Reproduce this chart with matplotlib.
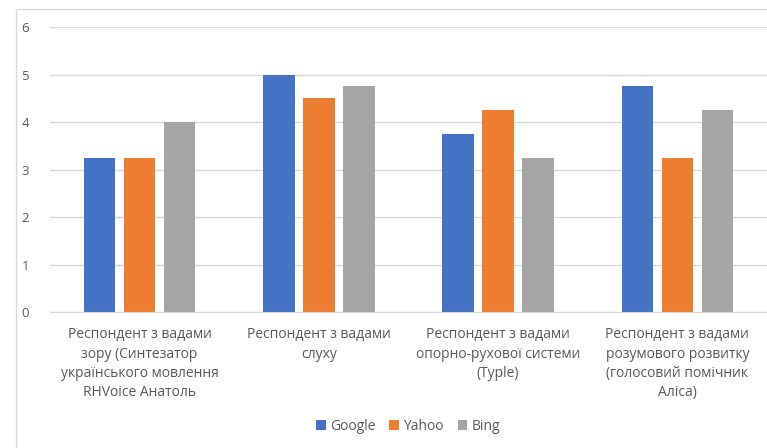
import numpy as np
import matplotlib.pyplot as plt
from matplotlib.patches import Rectangle

# data
categories = [
    "Респондент з вадами\nзору (Синтезатор\nукраїнського мовлення\nRHVoice Анатоль",
    "Респондент з вадами\nслуху",
    "Респондент з вадами\nопорно-рухової системи\n(Typle)",
    "Респондент з вадами\nрозумового розвитку\n(голосовий помічник\nАліса)",
]
series_names = ["Google", "Yahoo", "Bing"]
google = [3.25, 5.0, 3.75, 4.75]
yahoo = [3.25, 4.5, 4.25, 3.25]
bing = [4.0, 4.75, 3.25, 4.25]
y_ticks = [0, 1, 2, 3, 4, 5, 6]

colors = ["#4472C4", "#ED7D31", "#A5A5A5"]
text_col = "#595959"
grid_col = "#D9D9D9"

plt.rcParams['font.family'] = ['Open Sans', 'DejaVu Sans']

W, H = 767, 448
fig = plt.figure(figsize=(W / 100, H / 100), dpi=100)
fig.patch.set_facecolor("white")

# chart area border (cropped on right/bottom)
fig.patches.append(Rectangle((16 / W, -0.1), 1.2, 1 - 9 / H + 0.1,
                             transform=fig.transFigure, fill=False,
                             edgecolor=grid_col, linewidth=1))

ax = fig.add_axes([50 / W, 1 - 312 / H, (767 - 50) / W, (312 - 27) / H])

x = np.arange(len(categories))
width = 0.175
offset = 0.223
for i, (name, vals) in enumerate(zip(series_names, [google, yahoo, bing])):
    ax.bar(x + (i - 1) * offset, vals, width, color=colors[i], label=name, zorder=3)

ax.set_xlim(-0.5, len(categories) - 0.5)
ax.set_ylim(0, 6)
ax.set_yticks(y_ticks)
ax.yaxis.grid(True, color=grid_col, linewidth=1, zorder=0)
ax.set_xticks(x)
ax.set_xticklabels(categories, fontsize=10, color=text_col, linespacing=1.4)
ax.tick_params(axis='both', length=0, colors=text_col)
ax.tick_params(axis='y', pad=15, labelsize=9.5)
ax.tick_params(axis='x', pad=11)
for s in ["top", "right", "left"]:
    ax.spines[s].set_visible(False)
ax.spines["bottom"].set_color(grid_col)
ax.spines["bottom"].set_zorder(4)

fig.legend(loc="center", bbox_to_anchor=(408 / W, 1 - 426 / H), ncol=3,
           frameon=False, fontsize=10, labelcolor=text_col,
           handlelength=0.7, handleheight=0.7, handletextpad=0.3,
           columnspacing=1.0)

fig.savefig("out.png", dpi=100)
